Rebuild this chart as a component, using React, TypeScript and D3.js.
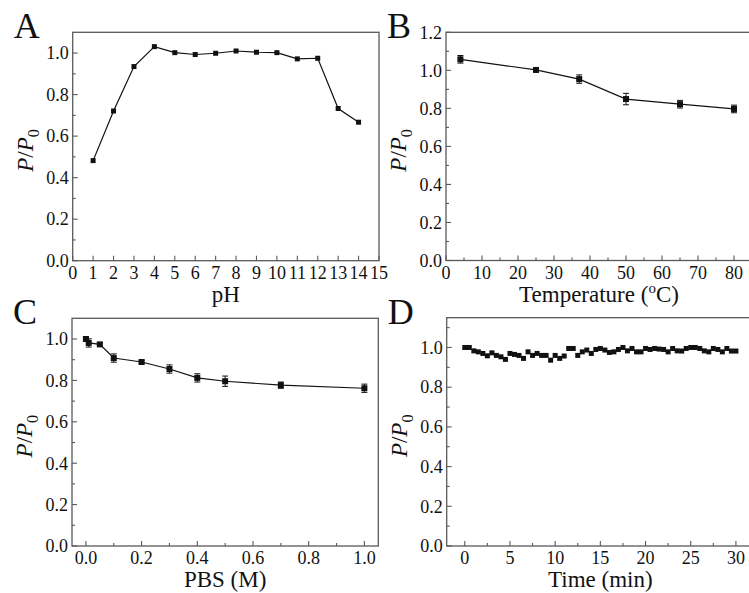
import React from "react";
import * as d3 from "d3";

// panel A: pH stability
const phX = [1, 2, 3, 4, 5, 6, 7, 8, 9, 10, 11, 12, 13, 14];
const phY = [0.482, 0.721, 0.935, 1.031, 1.002, 0.993, 0.999, 1.01, 1.004, 1.002, 0.972, 0.975, 0.733, 0.667];

// panel B: temperature
const tempX = [4, 25, 37, 50, 65, 80];
const tempY = [1.058, 1.002, 0.954, 0.849, 0.822, 0.797];
const tempErr = [0.02, 0.006, 0.022, 0.03, 0.02, 0.02];

// panel C: PBS concentration
const pbsX = [0, 0.01, 0.05, 0.1, 0.2, 0.3, 0.4, 0.5, 0.7, 1.0];
const pbsY = [1.0, 0.981, 0.974, 0.908, 0.889, 0.855, 0.812, 0.796, 0.777, 0.762];
const pbsErr = [0.01, 0.02, 0.008, 0.02, 0.008, 0.02, 0.02, 0.025, 0.015, 0.02];

// panel D: time
const timeX = [
  0, 0.5, 1, 1.5, 2, 2.5, 3, 3.5, 4, 4.5, 5, 5.5, 6, 6.5, 7, 7.5, 8, 8.5, 9, 9.5,
  10, 10.5, 11, 11.5, 12, 12.5, 13, 13.5, 14, 14.5, 15, 15.5, 16, 16.5, 17, 17.5,
  18, 18.5, 19, 19.5, 20, 20.5, 21, 21.5, 22, 22.5, 23, 23.5, 24, 24.5, 25, 25.5,
  26, 26.5, 27, 27.5, 28, 28.5, 29, 29.5, 30,
];
const timeY = [
  1.0, 1.0, 0.983, 0.978, 0.97, 0.958, 0.973, 0.96, 0.953, 0.94, 0.97, 0.965, 0.96,
  0.945, 0.978, 0.96, 0.97, 0.96, 0.96, 0.936, 0.96, 0.945, 0.957, 0.995, 0.995,
  0.96, 0.978, 0.987, 0.97, 0.99, 0.995, 0.987, 0.975, 0.978, 0.99, 1.0, 0.983,
  0.995, 0.978, 0.978, 0.995, 0.99, 0.995, 0.992, 0.99, 0.978, 0.995, 0.983, 0.982,
  0.995, 1.0, 1.0, 0.995, 0.983, 0.978, 0.995, 0.99, 0.978, 0.995, 0.982, 0.982,
];

const yTicks10 = [0, 0.2, 0.4, 0.6, 0.8, 1.0];
const yTicks12 = [0, 0.2, 0.4, 0.6, 0.8, 1.0, 1.2];
const yMinor = [0.1, 0.3, 0.5, 0.7, 0.9, 1.1];
const phTicks = [0, 1, 2, 3, 4, 5, 6, 7, 8, 9, 10, 11, 12, 13, 14, 15];
const tempTicks = [0, 10, 20, 30, 40, 50, 60, 70, 80];
const tempMinor = [5, 15, 25, 35, 45, 55, 65, 75];
const pbsTicks = [0, 0.2, 0.4, 0.6, 0.8, 1.0];
const pbsMinor = [0.1, 0.3, 0.5, 0.7, 0.9];
const timeTicks = [0, 5, 10, 15, 20, 25, 30];
const timeMinor = [2.5, 7.5, 12.5, 17.5, 22.5, 27.5];

const FONT = "'Liberation Serif', 'Times New Roman', serif";
const FRAME = "#5a5a5a";
const INK = "#111";

interface PanelProps {
  letter: string;
  left: number;
  right: number;
  top: number;
  bottom: number;
  xDomain: [number, number];
  yDomain: [number, number];
  xTicks: number[];
  xMinor: number[];
  yTicks: number[];
  xFmt: (v: number) => string;
  xTitle: React.ReactNode;
  xs: number[];
  ys: number[];
  errs?: number[];
  line: boolean;
  marker: number;
}

const Panel: React.FC<PanelProps> = (p) => {
  const x = d3.scaleLinear().domain(p.xDomain).range([p.left, p.right]);
  const y = d3.scaleLinear().domain(p.yDomain).range([p.bottom, p.top]);
  const yFmt = d3.format(".1f");
  const minorY = yMinor.filter((v) => v < p.yDomain[1]);
  const pts = p.xs.map((v, i) => [v, p.ys[i]] as [number, number]);
  const path = d3
    .line<[number, number]>()
    .x((d) => x(d[0]))
    .y((d) => y(d[1]))(pts);
  const cx = (p.left + p.right) / 2;
  const cy = (p.top + p.bottom) / 2;

  return (
    <g fontFamily={FONT} fill={INK}>
      <rect
        x={p.left}
        y={p.top}
        width={p.right - p.left}
        height={p.bottom - p.top}
        fill="none"
        stroke={FRAME}
        strokeWidth={1.3}
      />
      {p.xTicks.map((t) => (
        <g key={"xt" + t}>
          <line x1={x(t)} x2={x(t)} y1={p.bottom} y2={p.bottom - 5} stroke={FRAME} strokeWidth={1.1} />
          <text x={x(t)} y={p.bottom + 18} textAnchor="middle" fontSize={18}>
            {p.xFmt(t)}
          </text>
        </g>
      ))}
      {p.xMinor.map((t) => (
        <line key={"xm" + t} x1={x(t)} x2={x(t)} y1={p.bottom} y2={p.bottom - 3} stroke={FRAME} strokeWidth={1.1} />
      ))}
      {p.yTicks.map((t) => (
        <g key={"yt" + t}>
          <line x1={p.left} x2={p.left + 5} y1={y(t)} y2={y(t)} stroke={FRAME} strokeWidth={1.1} />
          <text x={p.left - 4} y={y(t)} dy="0.35em" textAnchor="end" fontSize={18}>
            {yFmt(t)}
          </text>
        </g>
      ))}
      {minorY.map((t) => (
        <line key={"ym" + t} x1={p.left} x2={p.left + 3} y1={y(t)} y2={y(t)} stroke={FRAME} strokeWidth={1.1} />
      ))}
      <text x={cx} y={p.bottom + 41} textAnchor="middle" fontSize={23}>
        {p.xTitle}
      </text>
      <text
        transform={`translate(${p.left - 40},${cy + 4}) rotate(-90)`}
        textAnchor="middle"
        fontSize={23}
      >
        <tspan fontStyle="italic">P</tspan>
        <tspan>/</tspan>
        <tspan fontStyle="italic">P</tspan>
        <tspan dy={6} fontSize={16}>0</tspan>
      </text>
      <text x={p.left - 59} y={p.top + 6} fontSize={36}>
        {p.letter}
      </text>
      {p.line && path && <path d={path} fill="none" stroke={INK} strokeWidth={1.2} />}
      {p.errs &&
        pts.map((d, i) => {
          const e = p.errs![i];
          const px = x(d[0]);
          return (
            <g key={"e" + i} stroke={INK} strokeWidth={1}>
              <line x1={px} x2={px} y1={y(d[1] - e)} y2={y(d[1] + e)} />
              <line x1={px - 3} x2={px + 3} y1={y(d[1] - e)} y2={y(d[1] - e)} />
              <line x1={px - 3} x2={px + 3} y1={y(d[1] + e)} y2={y(d[1] + e)} />
            </g>
          );
        })}
      {pts.map((d, i) => (
        <rect
          key={"m" + i}
          x={x(d[0]) - p.marker / 2}
          y={y(d[1]) - p.marker / 2}
          width={p.marker}
          height={p.marker}
          fill={INK}
        />
      ))}
    </g>
  );
};

const intFmt = d3.format("d");
const oneFmt = d3.format(".1f");

export default function App() {
  return (
    <svg
      width={749}
      height={593}
      style={{ position: "absolute", left: 0, top: 0, background: "#fff" }}
    >
      <Panel
        letter="A"
        left={72.7}
        right={379}
        top={32.3}
        bottom={260.7}
        xDomain={[0, 15]}
        yDomain={[0, 1.1]}
        xTicks={phTicks}
        xMinor={[]}
        yTicks={yTicks10}
        xFmt={intFmt}
        xTitle="pH"
        xs={phX}
        ys={phY}
        line
        marker={5}
      />
      <Panel
        letter="B"
        left={446}
        right={752}
        top={32.3}
        bottom={260.5}
        xDomain={[0, 85]}
        yDomain={[0, 1.2]}
        xTicks={tempTicks}
        xMinor={tempMinor}
        yTicks={yTicks12}
        xFmt={intFmt}
        xTitle={
          <>
            <tspan>Temperature (</tspan>
            <tspan dy={-9} fontSize={15}>o</tspan>
            <tspan dy={9}>C)</tspan>
          </>
        }
        xs={tempX}
        ys={tempY}
        errs={tempErr}
        line
        marker={6}
      />
      <Panel
        letter="C"
        left={72}
        right={378.3}
        top={318.3}
        bottom={546}
        xDomain={[-0.05, 1.05]}
        yDomain={[0, 1.1]}
        xTicks={pbsTicks}
        xMinor={pbsMinor}
        yTicks={yTicks10}
        xFmt={oneFmt}
        xTitle="PBS (M)"
        xs={pbsX}
        ys={pbsY}
        errs={pbsErr}
        line
        marker={6}
      />
      <Panel
        letter="D"
        left={446.7}
        right={754}
        top={317.7}
        bottom={546}
        xDomain={[-2, 32]}
        yDomain={[0, 1.15]}
        xTicks={timeTicks}
        xMinor={timeMinor}
        yTicks={yTicks10}
        xFmt={intFmt}
        xTitle="Time (min)"
        xs={timeX}
        ys={timeY}
        line={false}
        marker={5}
      />
    </svg>
  );
}
